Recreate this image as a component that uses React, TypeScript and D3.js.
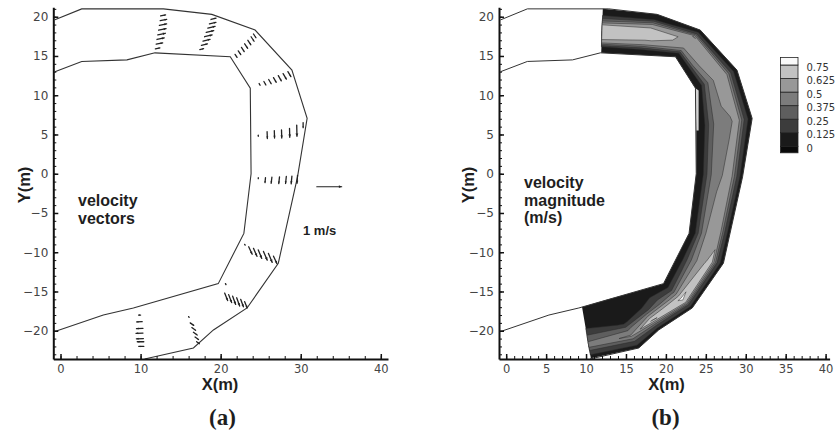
import React, { useRef, useEffect } from 'react';
import * as d3 from 'd3';

type Pt = [number, number];
type Vec = [number, number, number, number];

// channel banks (m)
const outerBank: Pt[] = [[-0.7, 19.6], [2.65, 21], [12.85, 21], [18.9, 20.3], [24.3, 18.3], [28.9, 13.2], [30.8, 7.05], [29.6, -0.4], [27.2, -11.4], [23.3, -17.1], [19.1, -19.9], [16.6, -22.2], [10.5, -23.6]];
const innerBank: Pt[] = [[-0.7, 13], [2.65, 14.3], [8.3, 14.5], [11.8, 15.4], [21.2, 14.9], [23.7, 10.9], [23.8, 0], [22.9, -7.6], [19.7, -14.0], [9.1, -17.1], [5.35, -18.0], [-0.7, -20.1]];

// cross-sections of the contoured reach (inner bank end, outer bank end)
const sectionInner: Pt[] = [[11.9, 15.4], [16.5, 15.15], [21.2, 14.9], [23.7, 10.9], [23.8, 6.0], [23.8, 0], [22.9, -7.6], [21.3, -10.8], [19.7, -14.0], [15.5, -15.23], [12.8, -16.0], [9.5, -16.98]];
const sectionOuter: Pt[] = [[12.1, 21.0], [18.9, 20.3], [24.3, 18.3], [28.9, 13.2], [30.8, 7.05], [29.6, -0.4], [28.05, -7.5], [27.2, -11.4], [23.3, -17.1], [19.1, -19.9], [16.6, -22.2], [10.6, -23.5]];

// velocity magnitude (m/s), 9 points across each section, inner -> outer
const speed: number[][] = [
  [0.02, 0.08, 0.6, 0.66, 0.7, 0.66, 0.3, 0.08, 0.02],
  [0.02, 0.1, 0.5, 0.64, 0.7, 0.68, 0.5, 0.1, 0.02],
  [0.02, 0.1, 0.42, 0.55, 0.58, 0.6, 0.63, 0.18, 0.02],
  [0.02, 0.08, 0.32, 0.46, 0.55, 0.58, 0.52, 0.18, 0.02],
  [0.02, 0.07, 0.3, 0.45, 0.47, 0.49, 0.56, 0.2, 0.02],
  [0.02, 0.08, 0.28, 0.44, 0.48, 0.52, 0.56, 0.25, 0.02],
  [0.02, 0.08, 0.3, 0.48, 0.55, 0.57, 0.55, 0.22, 0.02],
  [0.02, 0.1, 0.28, 0.45, 0.55, 0.62, 0.68, 0.22, 0.02],
  [0.02, 0.1, 0.2, 0.4, 0.6, 0.78, 0.7, 0.22, 0.02],
  [0.04, 0.06, 0.08, 0.1, 0.2, 0.5, 0.76, 0.28, 0.02],
  [0.04, 0.05, 0.06, 0.08, 0.11, 0.35, 0.52, 0.22, 0.04],
  [0.04, 0.05, 0.06, 0.08, 0.2, 0.32, 0.45, 0.2, 0.04],
];
// light sliver along the inner bank
const innerSliver: Pt[] = [[23.7, 10.9], [24.1, 10.6], [24.1, 5.5], [23.8, 5.5]];

const speedLevels = [0.125, 0.25, 0.375, 0.5, 0.625, 0.75];
const bandFill = ['#1a1a1a', '#3c3c3c', '#5e5e5e', '#7c7c7c', '#989898', '#c2c2c2', '#fafafa'];
const legendEdges = [-0.06, 0, 0.125, 0.25, 0.375, 0.5, 0.625, 0.75, 0.82];
const legendFill = ['#0a0a0a', '#1a1a1a', '#3c3c3c', '#5e5e5e', '#7c7c7c', '#989898', '#c2c2c2', '#fafafa'];
const legendLabels = [0.75, 0.625, 0.5, 0.375, 0.25, 0.125, 0];

// velocity vectors: x, y (m), u, v (m/s)
const vecA: Vec[] = [[11.85, 15.9, 0.18, 0.04], [11.95, 16.5, 0.26, 0.05], [12.05, 17.1, 0.29, 0.06], [12.15, 17.7, 0.3, 0.06], [12.25, 18.3, 0.3, 0.06], [12.35, 18.9, 0.29, 0.06], [12.45, 19.5, 0.26, 0.05], [12.5, 20.1, 0.2, 0.04]];
const vecB: Vec[] = [[17.4, 15.8, 0.15, 0.04], [17.6, 16.35, 0.24, 0.06], [17.8, 16.9, 0.28, 0.07], [18.0, 17.45, 0.3, 0.07], [18.2, 18.0, 0.3, 0.07], [18.4, 18.55, 0.29, 0.07], [18.6, 19.1, 0.26, 0.06], [18.8, 19.65, 0.2, 0.05]];
const vecC: Vec[] = [[21.8, 15.2, 0.08, -0.12], [22.2, 15.65, 0.1, -0.15], [22.6, 16.1, 0.11, -0.17], [23.0, 16.55, 0.12, -0.18], [23.4, 17.0, 0.12, -0.18], [23.8, 17.45, 0.12, -0.18], [24.1, 17.8, 0.1, -0.15]];
const vecD: Vec[] = [[24.8, 11.5, 0.04, -0.07], [25.4, 11.75, 0.08, -0.14], [26.0, 12.0, 0.1, -0.17], [26.6, 12.25, 0.11, -0.19], [27.2, 12.5, 0.12, -0.21], [27.8, 12.75, 0.13, -0.22], [28.4, 13.0, 0.12, -0.2]];
const vecE: Vec[] = [[24.7, 4.9, 0, -0.04], [25.8, 5.35, 0.01, -0.27], [26.7, 5.5, 0.01, -0.3], [27.6, 5.57, 0.01, -0.32], [28.6, 5.78, 0.01, -0.36], [29.5, 6.2, 0.01, -0.45], [30.3, 6.5, 0, -0.2]];
const vecF: Vec[] = [[24.7, -0.5, 0, -0.04], [25.6, -0.5, -0.02, -0.2], [26.4, -0.45, -0.03, -0.24], [27.35, -0.4, -0.03, -0.27], [28.2, -0.35, -0.03, -0.28], [28.9, -0.3, -0.03, -0.31], [29.6, -0.2, -0.02, -0.32]];
const vecG: Vec[] = [[23.0, -9.0, 0.02, -0.03], [23.5, -9.3, 0.14, -0.3], [24.1, -9.5, 0.14, -0.32], [24.7, -9.7, 0.14, -0.34], [25.35, -9.9, 0.15, -0.35], [25.97, -10.15, 0.15, -0.36], [26.6, -10.5, 0.14, -0.3]];
const vecH: Vec[] = [[20.6, -14.0, 0.02, -0.04], [20.5, -15.2, 0.12, -0.3], [21.0, -15.4, 0.12, -0.32], [21.5, -15.6, 0.12, -0.33], [22.0, -15.8, 0.12, -0.33], [22.5, -16.0, 0.11, -0.3], [23.0, -16.3, 0.1, -0.25]];
const vecI: Vec[] = [[16.0, -18.2, 0.02, -0.03], [16.2, -19.0, 0.14, -0.1], [16.4, -19.6, 0.15, -0.11], [16.6, -20.2, 0.15, -0.11], [16.8, -20.8, 0.14, -0.1], [17.0, -21.4, 0.11, -0.08]];
const vecJ: Vec[] = [[10.0, -18.0, -0.08, 0], [10.2, -18.85, -0.22, -0.01], [10.3, -19.7, -0.26, -0.01], [10.3, -20.3, -0.28, -0.01], [10.35, -21.0, -0.28, -0.01], [10.4, -21.4, -0.26, 0], [10.4, -22.0, -0.2, 0]];
const refVec: Vec = [32.0, -1.65, 1.0, 0];

const yMajor = [-20, -15, -10, -5, 0, 5, 10, 15, 20];
const yMinor = d3.range(-23, 22, 1);
const xMajorA = [0, 10, 20, 30, 40];
const xMinorA = d3.range(0, 41, 2);
const xMajorB = [0, 5, 10, 15, 20, 25, 30, 35, 40];
const xMinorB = d3.range(0, 41, 1);

const PX_PER_MS = 25;
const SANS = '"Liberation Sans", Arial, sans-serif';
const TICKFONT = '"DejaVu Sans", Verdana, sans-serif';

const App = () => {
  const svgRef = useRef<SVGSVGElement>(null);

  useEffect(() => {
    const svg = d3.select(svgRef.current);
    svg.selectAll('*').remove();

    const y = d3.scaleLinear().domain([-23.6, 21.2]).range([359, 7.3]);
    const xa = d3.scaleLinear().domain([-0.9, 40.9]).range([53.3, 388]);
    const xb = d3.scaleLinear().domain([-0.9, 40.5]).range([499, 829.6]);

    const bankLine = (x: any) => d3.line<Pt>().x(p => x(p[0])).y(p => y(p[1]));

    const drawAxes = (x: any, major: number[], minor: number[]) => {
      const h = y.range()[0];
      const gx = svg.append('g').attr('transform', `translate(0,${h})`).attr('color', '#111');
      gx.call(d3.axisBottom(x).tickValues(minor).tickSize(-3).tickSizeOuter(0).tickFormat(() => ''));
      gx.select('.domain').remove();
      const gx2 = svg.append('g').attr('transform', `translate(0,${h})`).attr('color', '#111');
      gx2.call(d3.axisBottom(x).tickValues(major).tickSize(-5).tickSizeOuter(0).tickPadding(6).tickFormat(d3.format('d')));
      gx2.select('.domain').attr('stroke-width', 2);
      gx2.selectAll('.tick line').attr('stroke-width', 1.5);
      gx2.selectAll('text').attr('font-family', TICKFONT).attr('font-size', 11.5).attr('fill', '#444');

      const left = x.range()[0];
      const gy = svg.append('g').attr('transform', `translate(${left},0)`).attr('color', '#111');
      gy.call(d3.axisLeft(y).tickValues(yMinor).tickSize(-3).tickSizeOuter(0).tickFormat(() => ''));
      gy.select('.domain').remove();
      const gy2 = svg.append('g').attr('transform', `translate(${left},0)`).attr('color', '#111');
      gy2.call(d3.axisLeft(y).tickValues(yMajor).tickSize(-5).tickSizeOuter(0).tickPadding(5).tickFormat(d3.format('d')));
      gy2.select('.domain').attr('stroke-width', 2);
      gy2.selectAll('.tick line').attr('stroke-width', 1.5);
      gy2.selectAll('text').attr('font-family', TICKFONT).attr('font-size', 12).attr('fill', '#444');
    };

    const text = (s: string, px: number, py: number, size: number, anchor = 'start', weight = 'bold', family = SANS) =>
      svg.append('text').text(s).attr('x', px).attr('y', py).attr('font-size', size)
        .attr('font-weight', weight).attr('font-family', family).attr('text-anchor', anchor).attr('fill', '#1e1e1e');

    // ---------- panel (b): contoured velocity magnitude ----------
    const nCols = speed[0].length;
    const nRows = speed.length;
    const lerp = (a: Pt, b: Pt, t: number): Pt => [a[0] + (b[0] - a[0]) * t, a[1] + (b[1] - a[1]) * t];
    const meshPoint = (cx: number, cy: number): Pt => {
      const u = Math.max(0, Math.min(nCols - 1, cx - 0.5));
      const v = Math.max(0, Math.min(nRows - 1, cy - 0.5));
      const r = Math.min(nRows - 2, Math.floor(v));
      const f = u / (nCols - 1);
      const a = lerp(sectionInner[r], sectionOuter[r], f);
      const b = lerp(sectionInner[r + 1], sectionOuter[r + 1], f);
      return lerp(a, b, v - r);
    };

    const reach = sectionInner.concat(sectionOuter.slice().reverse());
    svg.append('path').attr('d', bankLine(xb)(reach) + 'Z').attr('fill', bandFill[0]);

    const bands = d3.contours().size([nCols, nRows]).thresholds(speedLevels)(speed.flat());
    bands.forEach((band, i) => {
      const d = band.coordinates.map(poly => poly.map(ring =>
        'M' + ring.map(p => { const q = meshPoint(p[0], p[1]); return xb(q[0]).toFixed(2) + ',' + y(q[1]).toFixed(2); }).join('L') + 'Z'
      ).join('')).join('');
      svg.append('path').attr('d', d).attr('fill', bandFill[i + 1]).attr('fill-rule', 'evenodd')
        .attr('stroke', '#2a2a2a').attr('stroke-width', 0.5);
    });
    svg.append('path').attr('d', bankLine(xb)(innerSliver) + 'Z').attr('fill', '#d4d4d4');

    svg.append('path').attr('d', bankLine(xb)(outerBank)).attr('fill', 'none').attr('stroke', '#333').attr('stroke-width', 1);
    svg.append('path').attr('d', bankLine(xb)(innerBank)).attr('fill', 'none').attr('stroke', '#333').attr('stroke-width', 1);
    drawAxes(xb, xMajorB, xMinorB);

    // legend
    const ly = d3.scaleLinear().domain([0, 0.75]).range([146.3, 65]);
    legendFill.forEach((c, i) => {
      svg.append('rect').attr('x', 780.5).attr('width', 17.5)
        .attr('y', ly(legendEdges[i + 1])).attr('height', ly(legendEdges[i]) - ly(legendEdges[i + 1]))
        .attr('fill', c).attr('stroke', '#222').attr('stroke-width', 0.8);
    });
    legendLabels.forEach(v => {
      svg.append('text').text(String(v)).attr('x', 806.5).attr('y', ly(v) + 5.5)
        .attr('font-family', TICKFONT).attr('font-size', 10).attr('fill', '#333');
    });

    // ---------- panel (a): velocity vectors ----------
    svg.append('path').attr('d', bankLine(xa)(outerBank)).attr('fill', 'none').attr('stroke', '#333').attr('stroke-width', 1.1);
    svg.append('path').attr('d', bankLine(xa)(innerBank)).attr('fill', 'none').attr('stroke', '#333').attr('stroke-width', 1.1);

    const gv = svg.append('g');
    const drawVec = (vec: Vec, width = 1.3) => {
      const [vx, vy, u, v] = vec;
      const x0 = xa(vx), y0 = y(vy);
      const x1 = x0 + u * PX_PER_MS, y1 = y0 - v * PX_PER_MS;
      const len = Math.hypot(x1 - x0, y1 - y0);
      gv.append('line').attr('x1', x0).attr('y1', y0).attr('x2', x1).attr('y2', y1)
        .attr('stroke', '#222').attr('stroke-width', width).attr('stroke-linecap', 'round');
      if (len < 2) return;
      const h = Math.max(1.6, Math.min(3.2, len * 0.35));
      const a = Math.atan2(y1 - y0, x1 - x0);
      const pts = [[x1, y1], [x1 - h * Math.cos(a - 0.45), y1 - h * Math.sin(a - 0.45)], [x1 - h * Math.cos(a + 0.45), y1 - h * Math.sin(a + 0.45)]];
      gv.append('polygon').attr('points', pts.map(p => p.join(',')).join(' ')).attr('fill', '#222');
    };
    [vecA, vecB, vecC, vecD, vecE, vecF, vecG, vecH, vecI, vecJ].forEach(set => set.forEach(v => drawVec(v)));
    drawVec(refVec, 1.1);

    drawAxes(xa, xMajorA, xMinorA);

    // ---------- labels ----------
    text('velocity', 78, 206, 16);
    text('vectors', 78, 224, 16);
    text('1 m/s', 303, 235, 13);
    text('velocity', 524, 188, 16);
    text('magnitude', 524, 205.5, 16);
    text('(m/s)', 524, 223, 16);

    text('X(m)', 220, 390, 16.5, 'middle');
    text('X(m)', 666.5, 390, 16.5, 'middle');
    text('Y(m)', 0, 0, 16.5, 'middle').attr('transform', 'translate(30,185) rotate(-90)');
    text('Y(m)', 0, 0, 16.5, 'middle').attr('transform', 'translate(474,185) rotate(-90)');

    text('(a)', 222.5, 425, 23, 'middle', 'bold', '"Liberation Serif", "Times New Roman", serif');
    text('(b)', 665.5, 425, 23, 'middle', 'bold', '"Liberation Serif", "Times New Roman", serif');
  }, []);

  return (
    <svg ref={svgRef} width={836} height={436}
      style={{ position: 'absolute', left: 0, top: 0, background: '#fff' }} />
  );
};

export default App;
